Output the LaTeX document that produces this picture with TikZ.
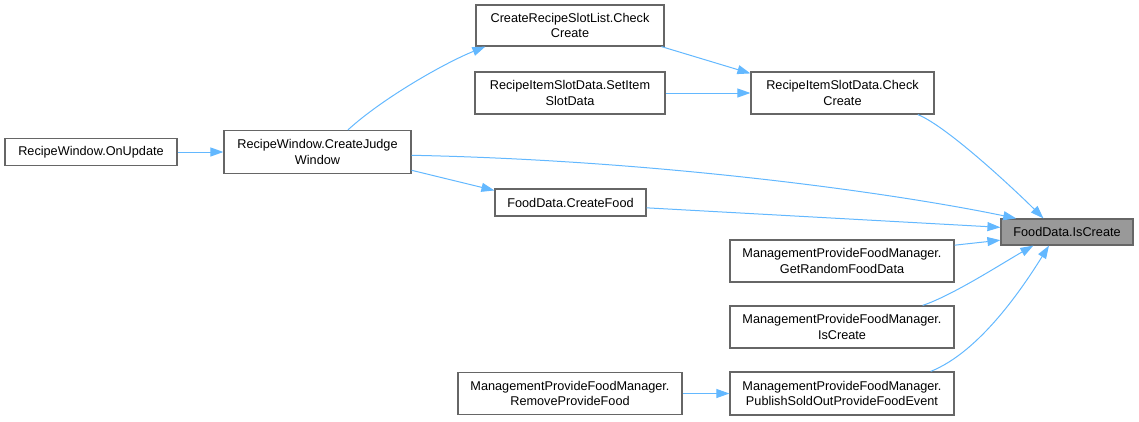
\documentclass[tikz,border=0pt]{standalone}
\usepackage{fontspec}
\setmainfont{Liberation Sans}
\usetikzlibrary{arrows.meta,calc}
\definecolor{edgeblue}{RGB}{99,184,255}
\definecolor{boxline}{RGB}{102,102,102}
\definecolor{hilite}{RGB}{153,153,153}

\tikzset{
  fn/.style={draw=boxline, fill=white, line width=1.2pt, align=center,
    inner sep=0pt, font=\fontsize{12.7}{15.5}\selectfont},
  call/.style={draw=edgeblue, line width=1pt,
    -{Triangle[length=13pt,width=9pt]}},
}

\begin{document}
\begin{tikzpicture}[x=1pt,y=-1pt]
\useasboundingbox (0,0) rectangle (1139,421);
% functions
\node[fn, minimum width=172, minimum height=27] (onupd) at (91,152) {RecipeWindow.OnUpdate};
\node[fn, minimum width=187, minimum height=43] (cjw) at (317.5,152) {RecipeWindow.CreateJudge\\Window};
\node[fn, minimum width=188, minimum height=41] (crsl) at (570,25.5) {CreateRecipeSlotList.Check\\Create};
\node[fn, minimum width=190, minimum height=42] (sis) at (570,93) {RecipeItemSlotData.SetItem\\SlotData};
\node[fn, minimum width=183, minimum height=42] (ricc) at (842.5,93) {RecipeItemSlotData.Check\\Create};
\node[fn, minimum width=151, minimum height=27] (cf) at (570.5,202.5) {FoodData.CreateFood};
\node[fn, fill=hilite, minimum width=132, minimum height=26] (fic) at (1067,232) {FoodData.IsCreate};
\node[fn, minimum width=224, minimum height=42] (gr) at (842,261) {ManagementProvideFoodManager.\\GetRandomFoodData};
\node[fn, minimum width=224, minimum height=42] (mic) at (842,327) {ManagementProvideFoodManager.\\IsCreate};
\node[fn, minimum width=224, minimum height=43] (pub) at (842,393.5) {ManagementProvideFoodManager.\\PublishSoldOutProvideFoodEvent};
\node[fn, minimum width=224, minimum height=42] (rpf) at (570,393.5) {ManagementProvideFoodManager.\\RemoveProvideFood};

% calls
\draw[call] (onupd.east) -- (cjw.west);
\draw[call] (cjw.36) .. controls +(35,-32) and +(-40,16) .. (crsl.194);
\draw[call] (crsl.-13) -- (ricc.168);
\draw[call] (sis.east) -- (ricc.west);
\draw[call] (ricc.-16) .. controls +(30,12) and +(-25,-25) .. (fic.150);
\draw[call] (cjw.-2) .. controls +(250,5) and +(-120,-25) .. (fic.165);
\draw[call] (cjw.-11) -- (cf.171);
\draw[call] (cf.-4) -- (fic.176);
\draw[call] (gr.8) -- (fic.187);
\draw[call] (mic.15) .. controls +(30,-10) and +(-30,17) .. (fic.202);
\draw[call] (pub.14) .. controls +(50,-20) and +(-25,40) .. (fic.217);
\draw[call] (rpf.east) -- (pub.west);
\end{tikzpicture}
\end{document}
